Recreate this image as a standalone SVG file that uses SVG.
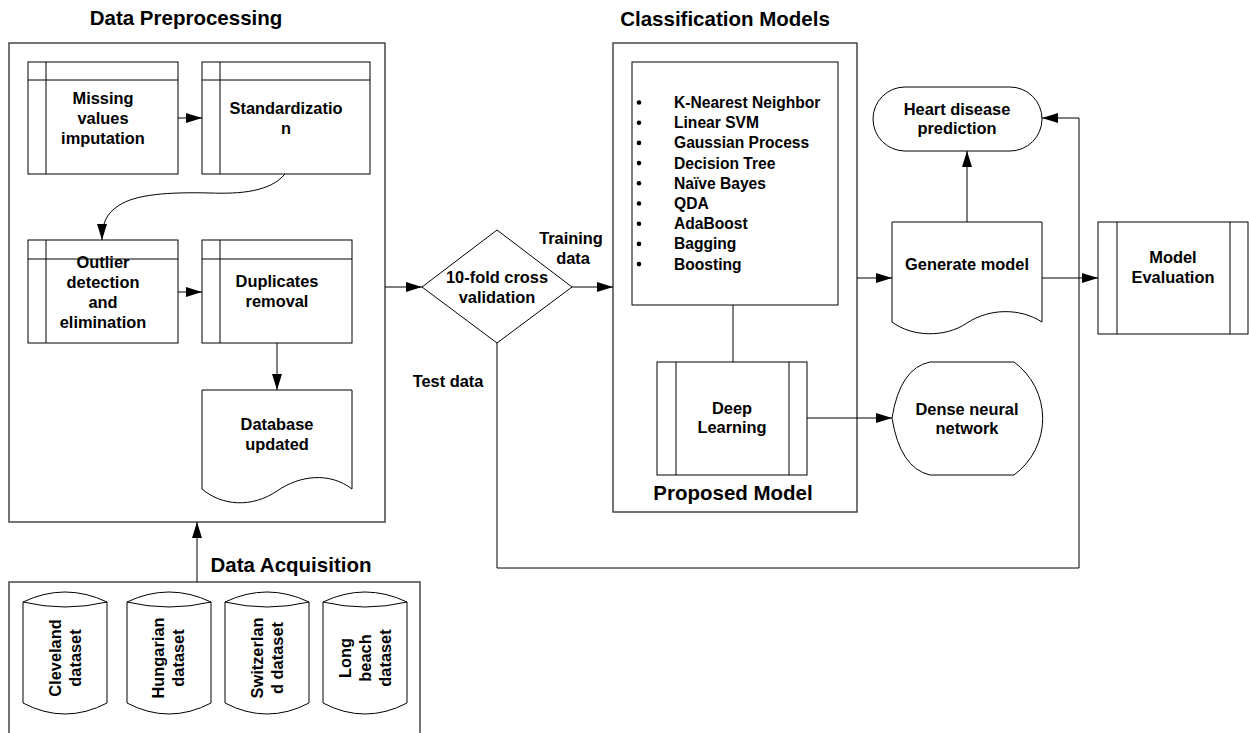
<svg xmlns="http://www.w3.org/2000/svg" width="1249" height="733" viewBox="0 0 1249 733">
<style>
text{font-family:"Liberation Sans",Arial,sans-serif;font-weight:bold;fill:#000}
.t{font-size:16.4px;text-anchor:middle}
.l{font-size:15.6px}
.h{font-size:20.5px}
.s{fill:#fff;stroke:#000;stroke-width:1}
.o{fill:#fff;stroke:#3a3a3a;stroke-width:1.4}
.ln{fill:none;stroke:#000;stroke-width:1}
.c{fill:none;stroke:#000;stroke-width:1}
</style>
<defs>
<marker id="ah" markerUnits="userSpaceOnUse" markerWidth="17" markerHeight="11" refX="16" refY="5" orient="auto">
<path d="M0,0 L16,5 L0,10 z" fill="#000"/>
</marker>
</defs>
<rect width="1249" height="733" fill="#fff"/>

<g id="titles">
<text class="h" x="186" y="25" text-anchor="middle">Data Preprocessing</text>
<text class="h" x="725" y="26" text-anchor="middle">Classification Models</text>
<text class="h" x="291" y="572" text-anchor="middle">Data Acquisition</text>
</g>

<g id="preprocessing-container">
<rect class="o" x="9" y="43" width="376" height="479"/>
</g>

<g id="acquisition-container">
<rect class="o" x="9" y="582" width="411" height="160"/>
</g>

<g id="classification-container">
<rect class="o" x="613" y="43" width="244" height="469"/>
<text class="h" x="733" y="500" text-anchor="middle">Proposed Model</text>
</g>

<g id="missing">
<rect class="s" x="28" y="62" width="150" height="112"/>
<path class="ln" d="M46,62 V174 M28,80 H178"/>
<text class="t" x="103" y="104">Missing</text>
<text class="t" x="103" y="124">values</text>
<text class="t" x="103" y="144">imputation</text>
</g>

<g id="standardization">
<rect class="s" x="202" y="62" width="168" height="112"/>
<path class="ln" d="M220,62 V174 M202,80 H370"/>
<text class="t" x="286" y="114">Standardizatio</text>
<text class="t" x="286" y="134">n</text>
</g>

<g id="outlier">
<rect class="s" x="28" y="240" width="150" height="103"/>
<path class="ln" d="M46,240 V343 M28,259 H178"/>
<text class="t" x="103" y="268">Outlier</text>
<text class="t" x="103" y="288">detection</text>
<text class="t" x="103" y="308">and</text>
<text class="t" x="103" y="328">elimination</text>
</g>

<g id="duplicates">
<rect class="s" x="202" y="240" width="150" height="103"/>
<path class="ln" d="M220,240 V343 M202,259 H352"/>
<text class="t" x="277" y="287">Duplicates</text>
<text class="t" x="277" y="307">removal</text>
</g>

<g id="database">
<path class="s" d="M202,390 H352 V489 C330,472 300,475 277,491 C252,508 222,506 202,489 Z"/>
<text class="t" x="277" y="430">Database</text>
<text class="t" x="277" y="450">updated</text>
</g>

<g id="cleveland">
<path class="s" d="M23,602 Q65,582 107,602 V703 Q65,725 23,703 Z"/>
<path class="c" d="M23,602 Q65,612 107,602"/>
<g transform="translate(65,658) rotate(-90)">
<text class="t" x="0" y="-4">Cleveland</text>
<text class="t" x="0" y="16">dataset</text>
</g>
</g>

<g id="hungarian">
<path class="s" d="M127,602 Q169,582 211,602 V703 Q169,725 127,703 Z"/>
<path class="c" d="M127,602 Q169,612 211,602"/>
<g transform="translate(168,658) rotate(-90)">
<text class="t" x="0" y="-4">Hungarian</text>
<text class="t" x="0" y="16">dataset</text>
</g>
</g>

<g id="switzerland">
<path class="s" d="M225,602 Q267,582 309,602 V703 Q267,725 225,703 Z"/>
<path class="c" d="M225,602 Q267,612 309,602"/>
<g transform="translate(267,658) rotate(-90)">
<text class="t" x="0" y="-4">Switzerlan</text>
<text class="t" x="0" y="16">d dataset</text>
</g>
</g>

<g id="longbeach">
<path class="s" d="M323,602 Q365,582 407,602 V703 Q365,725 323,703 Z"/>
<path class="c" d="M323,602 Q365,612 407,602"/>
<g transform="translate(365,658) rotate(-90)">
<text class="t" x="0" y="-14">Long</text>
<text class="t" x="0" y="6">beach</text>
<text class="t" x="0" y="26">dataset</text>
</g>
</g>

<g id="crossval">
<path class="s" d="M422,287 L497,230 L572,287 L497,343 Z"/>
<text class="t" x="497" y="283">10-fold cross</text>
<text class="t" x="497" y="303">validation</text>
</g>

<g id="labels">
<text class="t" x="571" y="244">Training</text>
<text class="t" x="573" y="264">data</text>
<text class="t" x="448" y="387">Test data</text>
</g>

<g id="algorithms">
<rect class="s" x="632" y="62" width="206" height="243"/>
<g class="l">
<circle cx="639" cy="102.5" r="2.3"/><text class="l" x="674" y="108">K-Nearest Neighbor</text>
<circle cx="639" cy="122.7" r="2.3"/><text class="l" x="674" y="128.2">Linear SVM</text>
<circle cx="639" cy="142.9" r="2.3"/><text class="l" x="674" y="148.4">Gaussian Process</text>
<circle cx="639" cy="163.1" r="2.3"/><text class="l" x="674" y="168.6">Decision Tree</text>
<circle cx="639" cy="183.3" r="2.3"/><text class="l" x="674" y="188.8">Naïve Bayes</text>
<circle cx="639" cy="203.5" r="2.3"/><text class="l" x="674" y="209">QDA</text>
<circle cx="639" cy="223.7" r="2.3"/><text class="l" x="674" y="229.2">AdaBoost</text>
<circle cx="639" cy="243.9" r="2.3"/><text class="l" x="674" y="249.4">Bagging</text>
<circle cx="639" cy="264.1" r="2.3"/><text class="l" x="674" y="269.6">Boosting</text>
</g>
</g>

<g id="deeplearning">
<rect class="s" x="657" y="362" width="150" height="113"/>
<path class="ln" d="M676,362 V475 M789,362 V475"/>
<text class="t" x="732" y="414">Deep</text>
<text class="t" x="732" y="433">Learning</text>
</g>

<g id="dense">
<path class="s" d="M892,418 Q900,368 930,362 H1014 A70,70 0 0 1 1014,475 H930 Q900,468 892,418 Z"/>
<text class="t" x="967" y="415">Dense neural</text>
<text class="t" x="967" y="434">network</text>
</g>

<g id="heart">
<rect class="s" x="873" y="87" width="169" height="64" rx="32" ry="32"/>
<text class="t" x="957" y="115">Heart disease</text>
<text class="t" x="957" y="134">prediction</text>
</g>

<g id="generate">
<path class="s" d="M892,222 H1042 V322 C1020,308 990,308 967,323 C945,338 912,337 892,322 Z"/>
<text class="t" x="967" y="270">Generate model</text>
</g>

<g id="evaluation">
<rect class="s" x="1098" y="222" width="150" height="112"/>
<path class="ln" d="M1117,222 V334 M1230,222 V334"/>
<text class="t" x="1173" y="263">Model</text>
<text class="t" x="1173" y="283">Evaluation</text>
</g>

<g id="connectors">
<path class="c" d="M178,118 H202" marker-end="url(#ah)"/>
<path class="c" d="M285,174 C270,192 240,194 210,193 C170,192 135,194 118,206 C106,214 102,224 102,240" marker-end="url(#ah)"/>
<path class="c" d="M178,292 H202" marker-end="url(#ah)"/>
<path class="c" d="M277,343 V390" marker-end="url(#ah)"/>
<path class="c" d="M197,582 V522" marker-end="url(#ah)"/>
<path class="c" d="M385,287 H422" marker-end="url(#ah)"/>
<path class="c" d="M572,287 H613" marker-end="url(#ah)"/>
<path class="c" d="M733,305 V362"/>
<path class="c" d="M807,418 H892" marker-end="url(#ah)"/>
<path class="c" d="M857,278 H892" marker-end="url(#ah)"/>
<path class="c" d="M967,222 V151" marker-end="url(#ah)"/>
<path class="c" d="M1042,278 H1098" marker-end="url(#ah)"/>
<path class="c" d="M497,343 V568 H1079 V118 H1042" marker-end="url(#ah)"/>
</g>
</svg>
